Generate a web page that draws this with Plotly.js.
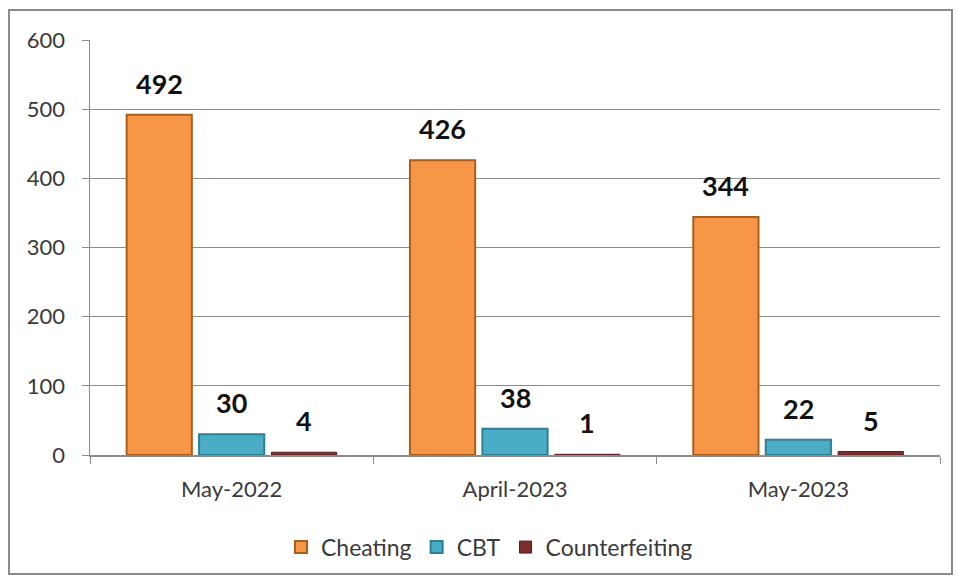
<!DOCTYPE html>
<html>
<head>
<meta charset="utf-8">
<script src="https://cdn.plot.ly/plotly-3.0.1.min.js"></script>
<style>
  html, body { margin: 0; padding: 0; background: #ffffff; }
  #wrap { position: relative; width: 957px; height: 581px; }
  #chart { position: absolute; left: 0; top: 0; width: 957px; height: 581px; }
  #frame { position: absolute; left: 8px; top: 9px; width: 945px; height: 566px;
           border: 2px solid #8a8a8a; box-sizing: border-box; pointer-events: none; }
</style>
</head>
<body>
<div id="wrap">
  <div id="chart"></div>
  <div id="frame"></div>
</div>
<script>
const categories = ["May-2022", "April-2023", "May-2023"];
const seriesNames = ["Cheating", "CBT", "Counterfeiting"];
const cheating = [492, 426, 344];
const cbt = [30, 38, 22];
const counterfeiting = [4, 1, 5];
const yTicks = [0, 100, 200, 300, 400, 500, 600];

const seriesValues = [cheating, cbt, counterfeiting];
const fills = ["#F79646", "#4BACC6", "#7B2E2C"];
const edges = ["#A85E1F", "#2C7F96", "#5A1E1C"];

const BARGAP = 0.233;
const GROUPGAP = 0.1;
const font = "Lato, 'Open Sans', sans-serif";

const traces = seriesValues.map((vals, i) => ({
  type: "bar",
  name: seriesNames[i],
  x: categories,
  y: vals,
  marker: { color: fills[i], line: { color: edges[i], width: i === 2 ? 1 : 2 } },
  hoverinfo: "skip"
}));

// value labels placed above each bar
const slot = (1 - BARGAP) / seriesValues.length;
const annotations = [];
seriesValues.forEach((vals, i) => {
  const off = (i - (seriesValues.length - 1) / 2) * slot;
  vals.forEach((v, j) => {
    annotations.push({
      xref: "x", yref: "y",
      x: j + off, y: v,
      text: String(v),
      showarrow: false,
      yanchor: "bottom",
      yshift: 13,
      font: { family: font, size: 27, color: "#111111", weight: 700 }
    });
  });
});

const layout = {
  width: 957, height: 581,
  margin: { l: 90, r: 17, t: 40, b: 126 },
  paper_bgcolor: "#ffffff",
  plot_bgcolor: "#ffffff",
  barmode: "group",
  bargap: BARGAP,
  bargroupgap: GROUPGAP,
  font: { family: font, size: 22, color: "#3a3a3a" },
  showlegend: true,
  legend: {
    orientation: "h",
    x: 0.47, xanchor: "center",
    y: -0.222, yanchor: "middle",
    font: { family: font, size: 23, color: "#3a3a3a" },
    itemwidth: 30,
    tracegroupgap: 0
  },
  xaxis: {
    type: "category",
    showline: true, linecolor: "#8c8c8c", linewidth: 1.5,
    ticks: "outside", tickson: "boundaries", ticklen: 7, tickcolor: "#8c8c8c",
    showgrid: false,
    ticklabelstandoff: 14,
    tickfont: { family: font, size: 22, color: "#3a3a3a" }
  },
  yaxis: {
    range: [0, 600],
    tickvals: yTicks,
    showline: true, linecolor: "#8c8c8c", linewidth: 1.5,
    ticks: "outside", ticklen: 7, tickcolor: "#8c8c8c",
    showgrid: true, gridcolor: "#8c8c8c", gridwidth: 1,
    zeroline: false,
    ticklabelstandoff: 12,
    tickfont: { family: font, size: 22, color: "#3a3a3a" }
  },
  annotations: annotations
};

Plotly.newPlot("chart", traces, layout, { displayModeBar: false, staticPlot: true });
</script>
</body>
</html>
